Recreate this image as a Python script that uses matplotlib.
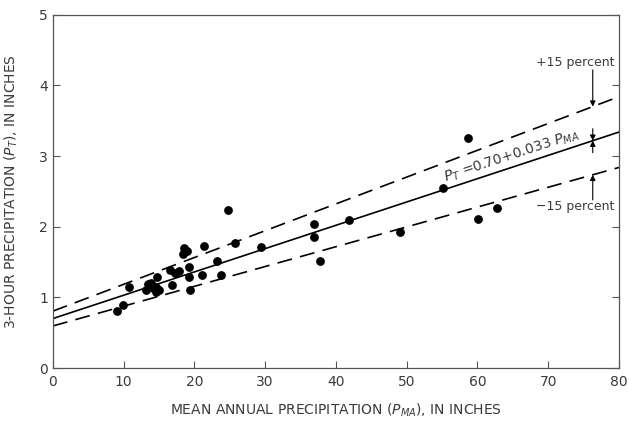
import numpy as np
import matplotlib.pyplot as plt

p_ma = [9.0, 9.9, 10.7, 13.1, 13.4, 13.9, 14.1, 14.6, 14.6, 14.7, 15.0,
        16.5, 16.8, 17.3, 17.8, 18.4, 18.6, 19.0, 19.3, 19.3, 19.4, 21.1,
        21.4, 23.2, 23.7, 24.8, 25.7, 29.4, 36.9, 36.9, 37.8, 41.9, 49.0,
        55.2, 58.6, 60.1, 62.7]
p_t = [0.81, 0.89, 1.15, 1.10, 1.19, 1.20, 1.13, 1.08, 1.15, 1.29, 1.11,
       1.39, 1.18, 1.34, 1.37, 1.61, 1.70, 1.66, 1.43, 1.29, 1.10, 1.32,
       1.73, 1.51, 1.31, 2.23, 1.77, 1.72, 2.04, 1.86, 1.52, 2.10, 1.92,
       2.55, 3.26, 2.11, 2.27]

# Regression line P_T = a + b * P_MA, with +/- 15 percent envelope
intercept = 0.70
slope = 0.033
band = 0.15

x_ticks = [0, 10, 20, 30, 40, 50, 60, 70, 80]
y_ticks = [0, 1, 2, 3, 4, 5]

text_color = "#3a3a3a"

fig = plt.figure(figsize=(6.29, 4.23), dpi=100)
ax = fig.add_axes([0.084, 0.130, 0.900, 0.835])

xs = np.array([0, 80])
fit = intercept + slope * xs
ax.plot(xs, fit, color="black", lw=1.2)
ax.plot(xs, fit * (1 + band), color="black", lw=1.2, dashes=(9, 5))
ax.plot(xs, fit * (1 - band), color="black", lw=1.2, dashes=(9, 5))

ax.scatter(p_ma, p_t, s=28, color="black", zorder=3)

ax.set_xlim(0, 80)
ax.set_ylim(0, 5)
ax.set_xticks(x_ticks)
ax.set_yticks(y_ticks)
ax.tick_params(direction="in", length=5, width=0.8, colors="#555555",
               labelcolor=text_color, labelsize=10, right=True)
ax.tick_params(axis="x", pad=5)
for s in ax.spines.values():
    s.set_linewidth(0.9)
    s.set_color("#555555")

ax.set_xlabel("MEAN ANNUAL PRECIPITATION ($P_{MA}$), IN INCHES",
              fontsize=10, color=text_color, labelpad=9)
ax.set_ylabel("3-HOUR PRECIPITATION ($P_T$), IN INCHES",
              fontsize=10, color=text_color, labelpad=14)

# Equation along the fitted line
ang = np.degrees(np.arctan(slope * (0.835 * 4.23 / 5) / (0.900 * 6.29 / 80)))
ax.text(64.8, 3.00, "$P_T$ =0.70+0.033 $P_{MA}$", rotation=ang,
        rotation_mode="anchor", ha="center", va="center",
        fontsize=10, color=text_color)

# Arrows marking the envelope
xa = 76.3
up = (intercept + slope * xa) * (1 + band)
mid = intercept + slope * xa
lo = (intercept + slope * xa) * (1 - band)
arrow = dict(arrowstyle="-|>", color="black", lw=0.8,
             mutation_scale=8, shrinkA=0, shrinkB=0)
ax.annotate("", xy=(xa, up), xytext=(xa, 4.22), arrowprops=arrow)
ax.annotate("", xy=(xa, mid), xytext=(xa, mid + 0.17), arrowprops=arrow)
ax.annotate("", xy=(xa, mid), xytext=(xa, mid - 0.17), arrowprops=arrow)
ax.annotate("", xy=(xa, lo), xytext=(xa, 2.38), arrowprops=arrow)
ax.text(79.4, 4.32, "+15 percent", ha="right", va="center",
        fontsize=9, color=text_color)
ax.text(79.4, 2.28, "\u221215 percent", ha="right", va="center",
        fontsize=9, color=text_color)

plt.savefig("out.png", dpi=100)
